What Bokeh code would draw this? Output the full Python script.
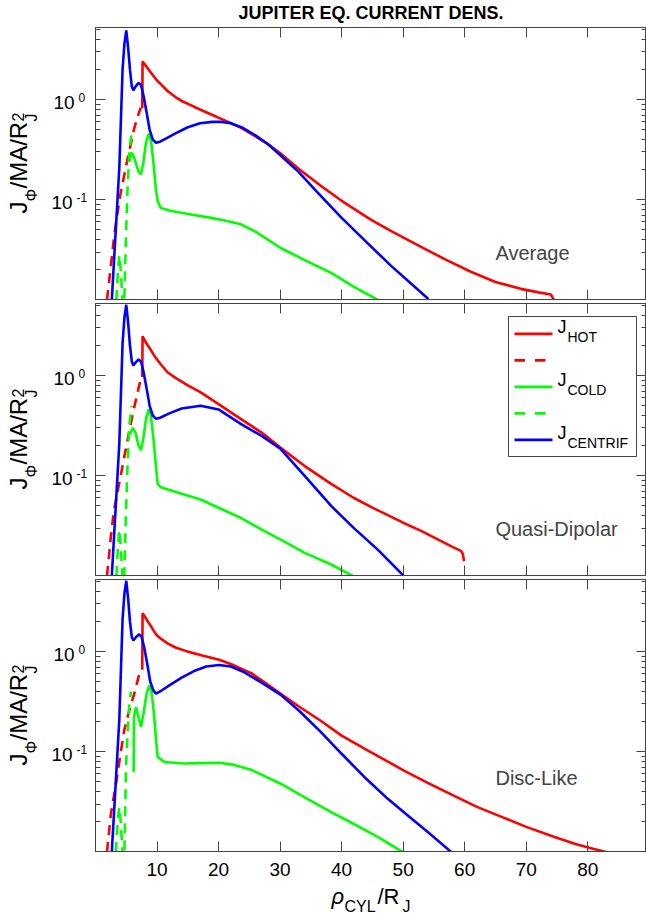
from bokeh.plotting import figure
from bokeh.models import (Range1d, LogAxis, LinearAxis, FixedTicker, Label, BoxAnnotation)
from bokeh.layouts import column, row
from bokeh.embed import file_html
from bokeh.resources import INLINE

FONT = "Liberation Sans"
FRAME = "#444444"
RED, GREEN, BLUE = "#ff0000", "#00ff00", "#0000ff"

# ---------------- data ----------------
x_ticks = [10, 20, 30, 40, 50, 60, 70, 80]
y_major_ticks = [0.1, 1.0]
y_minor_ticks = [0.02, 0.03, 0.04, 0.05, 0.06, 0.07, 0.08, 0.09,
                 0.2, 0.3, 0.4, 0.5, 0.6, 0.7, 0.8, 0.9, 2, 3, 4, 5]
y_tick_labels = [("10", "-1"), ("10", "0")]
panel_names = ["Average", "Quasi-Dipolar", "Disc-Like"]
legend_entries = [("HOT", RED, False), (None, RED, True), ("COLD", GREEN, False),
                  (None, GREEN, True), ("CENTRIF", BLUE, False)]

# Average
avg_hot_x = [7.6, 7.65, 8.0, 8.5, 9.0, 9.5, 10.0, 10.6, 11.7, 13, 14, 16, 18.8, 21, 23.6, 26, 28, 30.1, 33,
             36.6, 40, 44.8, 48, 52.9, 57, 61, 65, 69.1, 72, 74, 74.7]
avg_hot_y = [0.82, 2.4, 2.25, 2.05, 1.86, 1.7, 1.55, 1.43, 1.22, 1.06, 0.97, 0.85, 0.71, 0.62, 0.525, 0.43,
             0.36, 0.29, 0.204, 0.138, 0.0977, 0.063, 0.049, 0.0339, 0.0251, 0.0191, 0.0151, 0.0129,
             0.0119, 0.01135, 0.0095]
avg_hotd_x = [1.87, 2.5, 3.06, 4.0, 5.23, 6.3, 7.0, 7.35]
avg_hotd_y = [0.0100, 0.022, 0.045, 0.11, 0.26, 0.52, 0.72, 0.83]
avg_cold_x = [5.5, 5.77, 6.1, 6.5, 7.0, 7.4, 7.8, 8.2, 8.65, 9.0, 9.4, 9.8, 10.1, 10.6, 12, 15, 18.8, 21,
              23.6, 26, 30.1, 34, 38.3, 42, 45.9]
avg_cold_y = [0.24, 0.295, 0.28, 0.24, 0.19, 0.18, 0.24, 0.37, 0.457, 0.40, 0.24, 0.13, 0.097, 0.083,
              0.078, 0.072, 0.066, 0.062, 0.057, 0.048, 0.033, 0.025, 0.0186, 0.0135, 0.0100]
avg_coldd_x = [3.4, 3.65, 3.87, 4.1, 4.4, 4.55, 4.68, 4.96, 5.23, 5.5, 5.88]
avg_coldd_y = [0.01, 0.02, 0.028, 0.02, 0.0095, 0.006, 0.01, 0.045, 0.14, 0.31, 0.47]
avg_cen_x = [2.65, 3.0, 3.5, 3.87, 4.4, 4.7, 5.0, 5.3, 5.6, 5.9, 6.15, 6.5, 7.0, 7.4, 7.8, 8.3, 8.8, 9.3,
             9.83, 10.5, 11.5, 13, 15, 17, 19, 20.5, 22, 24, 26, 28, 30, 33, 36, 40, 44, 48, 52, 54.1]
avg_cen_y = [0.01, 0.024, 0.083, 0.21, 2.0, 3.6, 4.9, 3.3, 2.0, 1.35, 1.24, 1.35, 1.47, 1.4, 1.1, 0.75,
             0.5, 0.4, 0.37, 0.38, 0.41, 0.46, 0.53, 0.58, 0.60, 0.60, 0.58, 0.52, 0.44, 0.36, 0.28, 0.19,
             0.12, 0.066, 0.038, 0.022, 0.0133, 0.0102]

# Quasi-Dipolar
qd_hot_x = [7.6, 7.65, 8.0, 8.5, 9.0, 9.5, 10.0, 10.6, 11.7, 13, 15, 17.1, 20, 23.6, 27, 30.1, 34, 38.3,
            42, 45, 50, 53, 56.1, 58, 59.4, 59.7, 59.9]
qd_hot_y = [0.97, 2.47, 2.25, 2.0, 1.8, 1.6, 1.45, 1.3, 1.08, 0.95, 0.80, 0.68, 0.52, 0.37, 0.27, 0.19,
            0.125, 0.083, 0.060, 0.048, 0.034, 0.028, 0.0224, 0.0195, 0.0178, 0.0165, 0.014]
qd_hotd_x = [1.87, 2.5, 3.0, 3.6, 4.96, 6.0, 7.0, 7.35]
qd_hotd_y = [0.01, 0.025, 0.045, 0.07, 0.19, 0.40, 0.75, 0.92]
qd_cold_x = [5.6, 6.05, 6.5, 7.0, 7.4, 7.8, 8.2, 8.65, 9.0, 9.4, 9.8, 10.1, 10.6, 12, 14, 17.1, 20, 23.6,
             27, 30.1, 34, 38.3, 41.8]
qd_cold_y = [0.26, 0.30, 0.27, 0.20, 0.18, 0.24, 0.37, 0.46, 0.40, 0.24, 0.13, 0.083, 0.077, 0.072,
             0.066, 0.058, 0.048, 0.038, 0.029, 0.023, 0.017, 0.013, 0.010]
qd_coldd_x = [3.4, 3.65, 3.87, 4.1, 4.4, 4.55, 4.68, 4.96, 5.23, 5.5, 5.88]
qd_coldd_y = [0.01, 0.02, 0.029, 0.02, 0.0095, 0.006, 0.01, 0.045, 0.14, 0.32, 0.5]
qd_cen_x = [2.65, 3.0, 3.5, 3.87, 4.4, 4.7, 5.0, 5.3, 5.6, 5.9, 6.15, 6.5, 7.0, 7.4, 7.8, 8.3, 8.8, 9.3,
            9.83, 10.5, 12, 14, 17.1, 20, 23.6, 27, 30.1, 34, 38.3, 42, 46, 50.1]
qd_cen_y = [0.01, 0.024, 0.083, 0.21, 2.1, 3.8, 5.1, 3.4, 2.0, 1.38, 1.26, 1.35, 1.45, 1.38, 1.1, 0.75,
            0.5, 0.4, 0.37, 0.38, 0.42, 0.47, 0.50, 0.46, 0.33, 0.25, 0.185, 0.10, 0.05, 0.030, 0.018,
            0.010]

# Disc-Like
disc_hot_x = [7.6, 7.65, 8.0, 8.5, 9.0, 9.5, 10.0, 10.6, 11.7, 13, 15, 17.5, 20.1, 22.5, 25.3, 28, 30.1,
              33, 36.6, 40, 44, 47, 50.2, 54, 58.3, 62, 66.4, 70, 74.6, 78, 81, 83]
disc_hot_y = [0.66, 2.42, 2.25, 2.0, 1.8, 1.6, 1.45, 1.35, 1.21, 1.1, 1.0, 0.91, 0.83, 0.73, 0.61, 0.47,
              0.38, 0.285, 0.204, 0.145, 0.105, 0.0832, 0.0646, 0.049, 0.0363, 0.0282, 0.0219, 0.0178,
              0.0141, 0.0120, 0.0107, 0.0100]
disc_hotd_x = [1.87, 2.5, 3.33, 4.0, 4.68, 5.5, 6.3, 7.0, 7.35]
disc_hotd_y = [0.01, 0.024, 0.048, 0.09, 0.165, 0.26, 0.38, 0.56, 0.66]
disc_cold_x = [6.2, 6.25, 6.58, 7.0, 7.4, 7.8, 8.3, 8.75, 9.1, 9.5, 9.9, 10.1, 11.2, 14.4, 17, 20.1, 22.5,
               25.3, 30.1, 34, 38.3, 42, 46, 49.9]
disc_cold_y = [0.063, 0.22, 0.28, 0.22, 0.178, 0.24, 0.38, 0.46, 0.40, 0.24, 0.12, 0.089, 0.079, 0.0765,
               0.077, 0.0776, 0.074, 0.066, 0.048, 0.035, 0.025, 0.019, 0.014, 0.0100]
disc_coldd_x = [3.3, 3.6, 3.87, 4.1, 4.4, 4.55, 4.7, 4.85, 4.96, 5.2, 5.5, 5.77]
disc_coldd_y = [0.01, 0.02, 0.028, 0.02, 0.0095, 0.006, 0.01, 0.03, 0.07, 0.15, 0.3, 0.4]
disc_cen_x = [2.65, 3.0, 3.5, 3.87, 4.4, 4.7, 5.0, 5.3, 5.6, 5.9, 6.15, 6.6, 7.1, 7.5, 7.9, 8.4, 8.9, 9.4,
              9.83, 10.5, 12, 14, 16, 18, 20.1, 22, 24, 27, 30.1, 33, 36.6, 40, 44, 47.5, 51, 54, 57.8]
disc_cen_y = [0.01, 0.024, 0.083, 0.21, 2.1, 3.8, 5.1, 3.4, 2.0, 1.4, 1.29, 1.4, 1.49, 1.4, 1.12, 0.76,
              0.5, 0.41, 0.38, 0.40, 0.46, 0.55, 0.64, 0.71, 0.735, 0.71, 0.63, 0.49, 0.37, 0.26, 0.158,
              0.0955, 0.0537, 0.0339, 0.0224, 0.0158, 0.0100]

panel_label_x = 65
panel_label_y = [0.0295, 0.0293, 0.0552]

panels = [
    dict(hot=(avg_hot_x, avg_hot_y), hotd=(avg_hotd_x, avg_hotd_y), cold=(avg_cold_x, avg_cold_y),
         coldd=(avg_coldd_x, avg_coldd_y), cen=(avg_cen_x, avg_cen_y)),
    dict(hot=(qd_hot_x, qd_hot_y), hotd=(qd_hotd_x, qd_hotd_y), cold=(qd_cold_x, qd_cold_y),
         coldd=(qd_coldd_x, qd_coldd_y), cen=(qd_cen_x, qd_cen_y)),
    dict(hot=(disc_hot_x, disc_hot_y), hotd=(disc_hotd_x, disc_hotd_y), cold=(disc_cold_x, disc_cold_y),
         coldd=(disc_coldd_x, disc_coldd_y), cen=(disc_cen_x, disc_cen_y)),
]

# ---------------- layout ----------------
PAGE_W = 646
SIDE_W = 95
FRAME_W, FRAME_H = PAGE_W - SIDE_W, 272
TITLE_H, XLAB_H = 25, 34
BOTTOM_LAST = 34
x_range = Range1d(0, 89.55)
LW = 2.6
DASH = "10 7"
COMMON = dict(output_backend="svg", toolbar_location=None, min_border=0)


def label(p, text, x, y, size, xu="screen", yu="screen", **kw):
    kw.setdefault("text_font", FONT)
    p.add_layout(Label(x=x, y=y, x_units=xu, y_units=yu, text=text,
                       text_font_size=f"{size}px", text_color="black", **kw))


def sbox(p, l, r, b, t, **kw):
    p.add_layout(BoxAnnotation(left=l, right=r, bottom=b, top=t, left_units="screen",
                               right_units="screen", bottom_units="screen", top_units="screen", **kw))


def blank(w, h, y_range=None, y_log=False, **borders):
    f = figure(frame_width=w, frame_height=h, x_range=Range1d(0, w),
               y_range=y_range if y_range is not None else Range1d(0, h),
               y_axis_type="log" if y_log else "linear",
               x_axis_location=None, y_axis_location=None, outline_line_color=None,
               **COMMON, **borders)
    f.grid.visible = False
    return f


def tick_only(ax, ticks, length):
    """axis that shows inward tick marks only (drawn as minor ticks, so no labels)"""
    ax.ticker = FixedTicker(ticks=[], minor_ticks=ticks)
    ax.major_tick_in = ax.major_tick_out = 0
    ax.minor_tick_in, ax.minor_tick_out = length, 0
    ax.axis_line_color = FRAME
    ax.minor_tick_line_color = FRAME
    ax.major_label_standoff = 0


def make_row(i):
    last = i == 2
    bottom = BOTTOM_LAST if last else 2
    yr = Range1d(0.0101, 5.25)
    p = figure(frame_width=FRAME_W, frame_height=FRAME_H, x_range=x_range, y_range=yr,
               y_axis_type="log", min_border_top=2, min_border_bottom=bottom,
               outline_line_color=FRAME, outline_line_width=1, **COMMON)
    p.grid.visible = False

    # x axes (inward ticks top and bottom)
    top_ax = LinearAxis()
    p.add_layout(top_ax, "above")
    tick_only(top_ax, x_ticks, 10)
    bot = p.below[0]
    if last:
        bot.ticker = FixedTicker(ticks=x_ticks)
        bot.major_tick_in, bot.major_tick_out = 10, 0
        bot.minor_tick_in = bot.minor_tick_out = 0
        bot.axis_line_color = FRAME
        bot.major_tick_line_color = FRAME
        bot.major_label_text_font = FONT
        bot.major_label_text_font_size = "19px"
        bot.major_label_text_color = "black"
        bot.major_label_standoff = 11
    else:
        tick_only(bot, x_ticks, 10)

    # y axes: minor ticks and longer decade ticks on both sides
    tick_only(p.left[0], y_minor_ticks, 5)
    for side, ticks, ln in (("left", y_major_ticks, 10), ("right", y_minor_ticks, 5),
                            ("right", y_major_ticks, 10)):
        ax = LogAxis()
        p.add_layout(ax, side)
        tick_only(ax, ticks, ln)

    d = panels[i]
    p.line(*d["hot"], line_color=RED, line_width=LW)
    p.line(*d["hotd"], line_color=RED, line_width=LW, line_dash=DASH)
    p.line(*d["cold"], line_color=GREEN, line_width=LW)
    p.line(*d["coldd"], line_color=GREEN, line_width=LW, line_dash=DASH)
    p.line(*d["cen"], line_color=BLUE, line_width=LW)

    # panel name
    p.add_layout(Label(x=panel_label_x, y=panel_label_y[i], text=panel_names[i],
                       text_font=FONT, text_font_size="20px", text_baseline="middle"))

    if i == 1:
        # legend box (frame-relative screen px)
        sbox(p, 413, 541, 119, 259, fill_color="white", fill_alpha=1.0,
             line_color=FRAME, line_alpha=1.0, line_width=1)
        for k, (sub, color, dashed) in enumerate(legend_entries):
            c = 241.6 - 26.5 * k
            segs = [(419, 429.5), (439.5, 450)] if dashed else [(419, 457)]
            for a, b in segs:
                sbox(p, a, b, c - 1.3, c + 1.3, fill_color=color, fill_alpha=1.0, line_color=None)
            if sub:
                label(p, "J", 462, c - 2.7, 18)
                label(p, sub, 472, c - 11, 14)

    # side strip: y tick labels and rotated y title, sharing the panel's log y range
    s = blank(SIDE_W, FRAME_H, y_range=yr, y_log=True, min_border_top=2, min_border_bottom=bottom)
    for tv, (base, ex) in zip(y_major_ticks, y_tick_labels):
        bxl, exl = (53, 78) if len(ex) == 1 else (51, 76)
        label(s, base, bxl, tv, 19, yu="data", y_offset=-9.5)
        label(s, ex, exl, tv, 12, yu="data", y_offset=-2)
    bx, by = 31, 86
    rot = dict(angle=90, angle_units="deg", text_align="left")
    label(s, "J", bx, by, 24, **rot)
    label(s, "\u03a6", bx + 8, by + 12, 16, **rot)
    label(s, "/MA/R", bx, by + 25, 24, **rot)
    label(s, "2", bx - 8, by + 92, 16, **rot)
    label(s, "J", bx + 8, by + 92, 16, **rot)
    return row(s, p)


title_fig = blank(PAGE_W, TITLE_H)
label(title_fig, "JUPITER EQ. CURRENT DENS.", SIDE_W + FRAME_W / 2, 3, 18,
      text_align="center", text_font_style="bold")

xlab_fig = blank(PAGE_W, XLAB_H)
label(xlab_fig, "\u03c1", 331, 11, 22, text_font_style="italic")
label(xlab_fig, "CYL", 344, 5, 16)
label(xlab_fig, "/R", 377, 11, 22)
label(xlab_fig, "J", 402, 5, 16)

layout = column(title_fig, *[make_row(i) for i in range(3)], xlab_fig)
open("out.html", "w").write(file_html(layout, INLINE))
